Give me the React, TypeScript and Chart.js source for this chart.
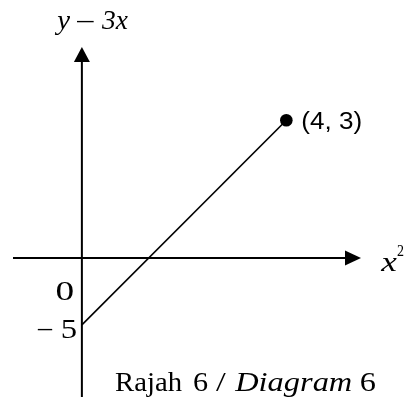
import React, { useEffect, useRef } from "react";
import { Chart, registerables, LinearScale } from "chart.js";

// ---- data ----
const X_VALUES = [0, 4];
const Y_VALUES = [-5, 3];
const POINT_LABEL = "(4, 3)";
const Y_AXIS_TITLE = ["y", "–", "3x"];
const X_AXIS_TITLE = "x";
const X_AXIS_POWER = "2";
const ORIGIN_LABEL = "0";
const Y_TICK_VALUES = [-5];
const Y_TICK_LABELS = [["–", "5"]];
const CAPTION_WORDS = ["Rajah", "6", "/", "Diagram", "6"];
const CAPTION_ITALIC = [false, false, false, true, false];

// A schematic y scale: negative values are drawn compressed (broken-axis style)
class SchematicScale extends (LinearScale as any) {
  static id = "schematic";
  static defaults = { ...(LinearScale as any).defaults };
  tf(v: number) {
    const k = (this as any).options.negativeFactor ?? 1;
    return v < 0 ? v * k : v;
  }
  getPixelForValue(value: number) {
    const lo = this.tf((this as any).min);
    const hi = this.tf((this as any).max);
    return (this as any).getPixelForDecimal((this.tf(value) - lo) / (hi - lo));
  }
  getValueForPixel(pixel: number) {
    const lo = this.tf((this as any).min);
    const hi = this.tf((this as any).max);
    const t = lo + (this as any).getDecimalForPixel(pixel) * (hi - lo);
    const k = (this as any).options.negativeFactor ?? 1;
    return t < 0 ? t / k : t;
  }
}

Chart.register(...registerables, SchematicScale as any);

// draw one token so that its ink spans [left, left+width]
function drawToken(
  ctx: CanvasRenderingContext2D,
  text: string,
  font: string,
  left: number,
  baseline: number,
  width: number
) {
  ctx.save();
  ctx.font = font;
  ctx.textAlign = "left";
  ctx.textBaseline = "alphabetic";
  const m = ctx.measureText(text);
  const inkL = -m.actualBoundingBoxLeft;
  const inkW = m.actualBoundingBoxRight + m.actualBoundingBoxLeft || m.width;
  const sx = width / inkW;
  ctx.translate(left, baseline);
  ctx.scale(sx, 1);
  ctx.fillText(text, -inkL, 0);
  ctx.restore();
}

const SERIF = "'Liberation Serif'";
const SANS = "'Liberation Sans'";

const diagramPlugin = {
  id: "diagram",
  beforeDatasetsDraw(chart: any) {
    const { ctx, scales } = chart;
    const xs = scales.x;
    const ys = scales.y;
    const x0 = xs.getPixelForValue(0);
    const y0 = ys.getPixelForValue(0);
    ctx.save();
    ctx.strokeStyle = "#000";
    ctx.fillStyle = "#000";
    ctx.lineWidth = 2;
    // vertical axis
    ctx.beginPath();
    ctx.moveTo(x0, 397);
    ctx.lineTo(x0, 58);
    ctx.stroke();
    ctx.beginPath();
    ctx.moveTo(x0, 47);
    ctx.lineTo(x0 - 8, 62);
    ctx.lineTo(x0 + 8, 62);
    ctx.closePath();
    ctx.fill();
    // horizontal axis
    ctx.beginPath();
    ctx.moveTo(13, y0);
    ctx.lineTo(350, y0);
    ctx.stroke();
    ctx.beginPath();
    ctx.moveTo(361, y0);
    ctx.lineTo(345, y0 - 7.5);
    ctx.lineTo(345, y0 + 7.5);
    ctx.closePath();
    ctx.fill();
    ctx.restore();
  },
  afterDatasetsDraw(chart: any) {
    const { ctx, scales } = chart;
    const xs = scales.x;
    const ys = scales.y;
    const x0 = xs.getPixelForValue(0);
    const y0 = ys.getPixelForValue(0);
    ctx.save();
    ctx.fillStyle = "#000";
    const it27 = `italic 27px ${SERIF}`;
    // y axis title
    drawToken(ctx, Y_AXIS_TITLE[0], it27, 54, 29, 16);
    drawToken(ctx, Y_AXIS_TITLE[1], `27px ${SERIF}`, 76, 28, 18);
    drawToken(ctx, Y_AXIS_TITLE[2], it27, 101, 29, 27);
    // x axis title with superscript
    drawToken(ctx, X_AXIS_TITLE, it27, 380, y0 + 13, 17);
    drawToken(ctx, X_AXIS_POWER, `16px ${SERIF}`, 397, y0 - 2, 7);
    // origin label
    drawToken(ctx, ORIGIN_LABEL, `28px ${SERIF}`, x0 - 25, y0 + 42, 16);
    // y tick labels
    Y_TICK_VALUES.forEach((v, i) => {
      const py = ys.getPixelForValue(v);
      drawToken(ctx, Y_TICK_LABELS[i][0], `28px ${SERIF}`, x0 - 45, py + 11, 16);
      drawToken(ctx, Y_TICK_LABELS[i][1], `28px ${SERIF}`, x0 - 20, py + 13, 14);
    });
    // point label
    const last = X_VALUES.length - 1;
    const px = xs.getPixelForValue(X_VALUES[last]);
    const py = ys.getPixelForValue(Y_VALUES[last]);
    drawToken(ctx, POINT_LABEL, `23px ${SANS}`, px + 16, py + 9, 59);
    // caption
    const capLeft = [115, 194, 216, 234, 361];
    const capWidth = [67, 14, 10, 118, 15];
    CAPTION_WORDS.forEach((w, i) => {
      drawToken(
        ctx,
        w,
        `${CAPTION_ITALIC[i] ? "italic " : ""}28px ${SERIF}`,
        capLeft[i],
        391,
        capWidth[i]
      );
    });
    ctx.restore();
  },
};

export default function App() {
  const canvasRef = useRef<HTMLCanvasElement | null>(null);

  useEffect(() => {
    let chart: Chart | null = null;
    let cancelled = false;
    const fonts = [`27px ${SERIF}`, `italic 27px ${SERIF}`, `23px ${SANS}`];
    const loads = (document as any).fonts
      ? Promise.all(fonts.map((f) => (document as any).fonts.load(f).catch(() => null)))
      : Promise.resolve();
    loads.then(() => {
      if (cancelled || !canvasRef.current) return;
      chart = new Chart(canvasRef.current, {
        type: "line",
        data: {
          datasets: [
            {
              data: X_VALUES.map((x, i) => ({ x, y: Y_VALUES[i] })),
              borderColor: "#000",
              borderWidth: 1.6,
              pointRadius: X_VALUES.map((_, i) => (i === X_VALUES.length - 1 ? 6.3 : 0)),
              pointBackgroundColor: "#000",
              pointBorderWidth: 0,
              clip: false as any,
            },
          ],
        },
        options: {
          animation: false,
          responsive: true,
          maintainAspectRatio: false,
          events: [],
          layout: { padding: 0 },
          plugins: {
            legend: { display: false },
            tooltip: { enabled: false },
          },
          scales: {
            x: {
              type: "linear",
              min: -1.4787,
              max: 6.218,
              display: false,
            },
            y: {
              type: "schematic" as any,
              min: -10.22,
              max: 5.482,
              negativeFactor: 0.291,
              display: false,
            } as any,
          },
        },
        plugins: [diagramPlugin],
      });
    });
    return () => {
      cancelled = true;
      if (chart) chart.destroy();
    };
  }, []);

  return (
    <div
      style={{
        position: "fixed",
        left: 0,
        top: 0,
        width: 406,
        height: 401,
        background: "#fff",
      }}
    >
      <canvas ref={canvasRef} />
    </div>
  );
}
